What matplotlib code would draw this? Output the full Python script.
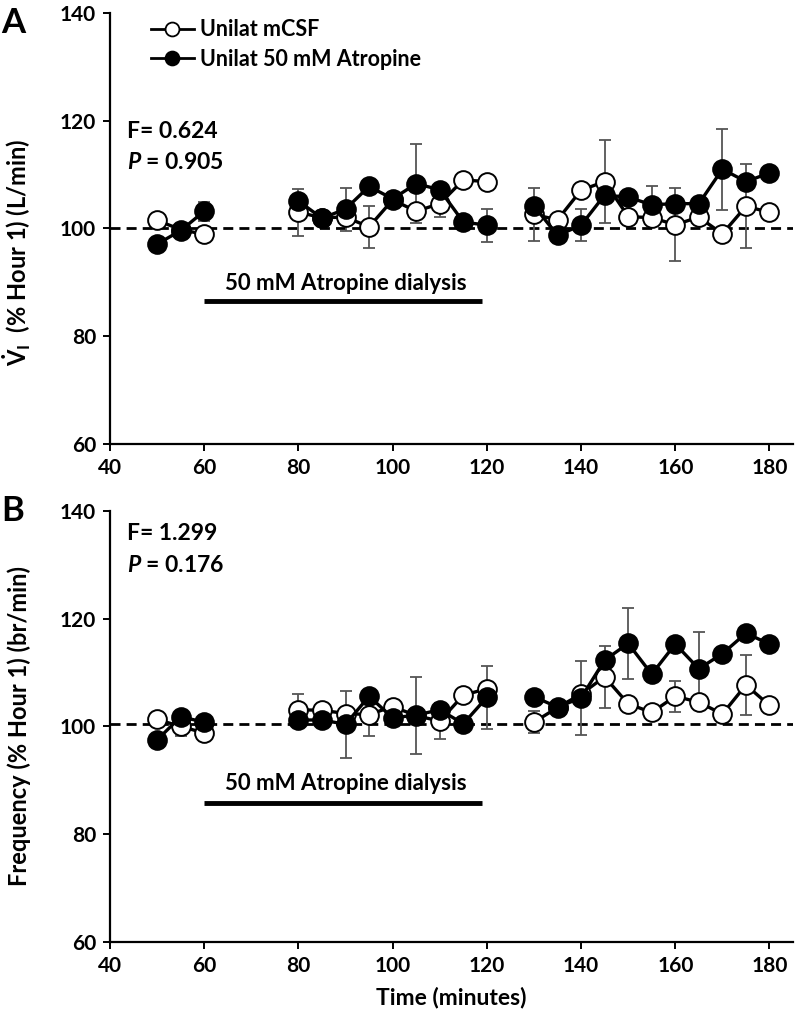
import numpy as np
import matplotlib
matplotlib.use('Agg')
import matplotlib.pyplot as plt
from matplotlib.lines import Line2D

plt.rcParams['font.family'] = ['Lato', 'DejaVu Sans']
plt.rcParams['font.weight'] = 'bold'
plt.rcParams['mathtext.fontset'] = 'custom'
plt.rcParams['mathtext.rm'] = 'Lato:bold'
plt.rcParams['mathtext.bf'] = 'Lato:bold'
plt.rcParams['mathtext.it'] = 'Lato:italic:bold'
plt.rcParams['mathtext.bfit'] = 'Lato:italic:bold'

# ---- data ----
time = [50, 55, 60, 80, 85, 90, 95, 100, 105, 110, 115, 120,
        130, 135, 140, 145, 150, 155, 160, 165, 170, 175, 180]

# Panel A: minute ventilation (% Hour 1)
a_mcsf = [101.5, 99.8, 98.9, 103.0, 102.0, 102.1, 100.3, 105.3, 103.2, 104.6, 109.0, 108.7,
          102.6, 101.6, 107.1, 108.7, 102.2, 102.0, 100.7, 102.1, 99.0, 104.1, 103.0]
a_mcsf_err = [0, 0, 0, 4.4, 0, 0, 3.9, 0, 0, 2.5, 0, 0,
              5.0, 0, 0, 7.7, 0, 0, 6.8, 0, 0, 7.8, 0]
a_atro = [97.1, 99.6, 103.2, 105.1, 101.9, 103.6, 107.8, 105.5, 108.3, 107.2, 101.2, 100.6,
          104.2, 98.7, 100.6, 106.2, 105.8, 104.4, 104.6, 104.6, 111.0, 108.7, 110.3]
a_atro_err = [0, 0, 1.8, 0, 0, 4.0, 0, 0, 7.3, 0, 0, 3.1,
              0, 0, 3.0, 0, 0, 3.5, 0, 0, 7.5, 0, 0]

# Panel B: frequency (% Hour 1)
b_mcsf = [101.3, 100.0, 98.8, 103.1, 103.0, 102.4, 102.2, 103.7, 102.0, 101.0, 105.8, 107.0,
          100.8, 103.5, 106.0, 109.2, 104.2, 102.6, 105.6, 104.5, 102.3, 107.7, 103.9]
b_mcsf_err = [0, 1.8, 0, 2.9, 0, 0, 4.0, 0, 7.2, 3.4, 0, 0,
              2.0, 0, 0, 5.7, 0, 0, 2.9, 0, 0, 5.5, 0]
b_atro = [97.5, 101.8, 100.8, 101.2, 101.2, 100.4, 105.6, 101.6, 102.1, 103.1, 100.5, 105.4,
          105.5, 103.6, 105.3, 112.3, 115.4, 109.7, 115.3, 110.7, 113.5, 117.3, 115.3]
b_atro_err = [0, 0, 0, 0, 0, 6.2, 0, 0, 0, 0, 0, 5.8,
              0, 0, 6.9, 0, 6.6, 0, 0, 6.9, 0, 0, 0]

series_labels = ['Unilat mCSF', 'Unilat 50 mM Atropine']
stats_A = ('F= 0.624', '0.905')
stats_B = ('F= 1.299', '0.176')
dialysis_label = '50 mM Atropine dialysis'
dialysis_span = (60, 119)
xticks = [40, 60, 80, 100, 120, 140, 160, 180]
yticks = [60, 80, 100, 120, 140]

fig = plt.figure(figsize=(8, 10.27), dpi=100)
axA = fig.add_axes([0.1375, 0.5677, 0.8538, 0.4197])
axB = fig.add_axes([0.1375, 0.0828, 0.8538, 0.4197])

t = np.array(time, dtype=float)
breaks = np.where(np.diff(t) > 5)[0] + 1
segments = np.split(np.arange(len(t)), breaks)


def draw_series(ax, vals, errs, filled):
    v = np.array(vals, dtype=float)
    e = np.array(errs, dtype=float)
    m = e > 0
    ax.errorbar(t[m], v[m], yerr=e[m], fmt='none', ecolor='#555555',
                elinewidth=1.3, capsize=4.5, capthick=1.3, zorder=2)
    for seg in segments:
        ax.plot(t[seg], v[seg], '-', color='black', lw=2.4,
                marker='o', ms=13.5, mec='black', mew=1.4,
                mfc='black' if filled else 'white', zorder=4 if filled else 3)


def style_axis(ax, dashed_y, dial_y, dial_text_y, stats, stat_y):
    ax.set_xlim(40, 185)
    ax.set_ylim(60, 140)
    ax.set_xticks(xticks)
    ax.set_yticks(yticks)
    for s in ['top', 'right']:
        ax.spines[s].set_visible(False)
    for s in ['left', 'bottom']:
        ax.spines[s].set_linewidth(1.6)
    ax.tick_params(direction='out', length=5, width=1.4, labelsize=15, pad=5)
    for lab in ax.get_xticklabels() + ax.get_yticklabels():
        lab.set_fontweight('bold')
    ax.axhline(dashed_y, color='black', lw=2, ls=(0, (3.6, 2.2)), zorder=1)
    ax.plot(list(dialysis_span), [dial_y, dial_y], color='black', lw=3.5,
            solid_capstyle='butt', zorder=1)
    ax.text(90, dial_text_y, dialysis_label, ha='center', va='center',
            fontsize=16, fontweight='bold')
    ax.text(43.6, stat_y[0], stats[0], ha='left', va='center',
            fontsize=16.5, fontweight='bold')
    ax.text(43.6, stat_y[1], r'$\mathbfit{P}$ = ' + stats[1], ha='left', va='center',
            fontsize=16.5, fontweight='bold')


draw_series(axA, a_mcsf, a_mcsf_err, False)
draw_series(axA, a_atro, a_atro_err, True)
draw_series(axB, b_mcsf, b_mcsf_err, False)
draw_series(axB, b_atro, b_atro_err, True)

style_axis(axA, 100, 86.6, 89.8, stats_A, (118.0, 112.3))
style_axis(axB, 100.5, 85.8, 89.4, stats_B, (135.8, 129.9))

axA.set_ylabel(r'$\dot{\mathbf{V}}_{\mathbf{I}}$  (% Hour 1) (L/min)', fontsize=17,
               fontweight='bold')
axB.set_ylabel('Frequency (% Hour 1) (br/min)', fontsize=17, fontweight='bold')
axB.set_xlabel('Time (minutes)', fontsize=16.5, fontweight='bold', labelpad=8)
axA.yaxis.set_label_coords(-0.112, 0.445)
axB.yaxis.set_label_coords(-0.116, 0.5)

handles = [
    Line2D([0], [0], color='black', lw=2, marker='o', ms=10, mfc='white', mec='black', mew=1.3),
    Line2D([0], [0], color='black', lw=2, marker='o', ms=10, mfc='black', mec='black', mew=1.3),
]
axA.legend(handles, series_labels, loc='upper left', bbox_to_anchor=(0.044, 1.01),
           frameon=False, handlelength=2.0, handletextpad=0.3, labelspacing=0.4,
           borderpad=0, prop={'size': 15.5, 'weight': 'bold'})

fig.text(0.002, 0.9776, 'A', fontsize=25, fontweight='bold', ha='left', va='center')
fig.text(0.002, 0.5025, 'B', fontsize=25, fontweight='bold', ha='left', va='center')

fig.savefig('out.png', dpi=100)
